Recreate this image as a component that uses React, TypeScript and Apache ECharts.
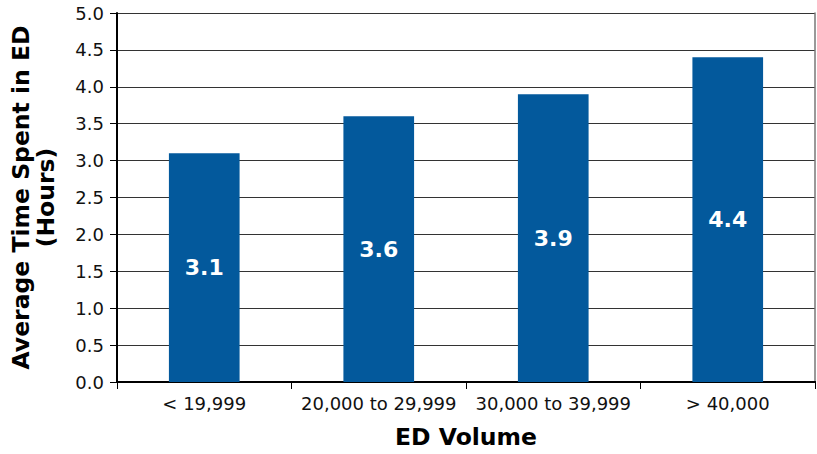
import React, { useEffect, useRef } from "react";
import * as echarts from "echarts";

const categories = ["< 19,999", "20,000 to 29,999", "30,000 to 39,999", "> 40,000"];
const hours = [3.1, 3.6, 3.9, 4.4];
const yTicks = { min: 0, max: 5, interval: 0.5 };

const FONT = "DejaVu Sans, Verdana, sans-serif";

export default function App() {
  const ref = useRef<HTMLDivElement>(null);

  useEffect(() => {
    if (!ref.current) return;
    document.body.style.margin = "0";
    const chart = echarts.init(ref.current, null, { renderer: "svg" });
    chart.setOption({
      animation: false,
      backgroundColor: "#ffffff",
      grid: { left: 115, right: 2, top: 13, bottom: 69, containLabel: false },
      xAxis: [
        {
          type: "category",
          data: categories,
          name: "ED Volume",
          nameLocation: "middle",
          nameGap: 43,
          nameTextStyle: { fontFamily: FONT, fontSize: 23.5, fontWeight: "bold", color: "#000" },
          axisLine: { show: true, lineStyle: { color: "#000", width: 2 } },
          axisTick: { show: true, length: 7, lineStyle: { color: "#000", width: 1 } },
          axisLabel: { interval: 0, fontFamily: FONT, fontSize: 18, color: "#111", margin: 12 },
        },
        {
          type: "category",
          data: categories,
          position: "top",
          axisLine: { show: true, lineStyle: { color: "#000", width: 2 } },
          axisTick: { show: false },
          axisLabel: { show: false },
        },
      ],
      yAxis: [
        {
          type: "value",
          min: yTicks.min,
          max: yTicks.max,
          interval: yTicks.interval,
          name: "Average Time Spent in ED\n(Hours)",
          nameLocation: "middle",
          nameRotate: 90,
          nameGap: 59,
          nameTextStyle: {
            fontFamily: FONT,
            fontSize: 23.5,
            fontWeight: "bold",
            color: "#000",
            lineHeight: 25,
          },
          axisLine: { show: true, lineStyle: { color: "#000", width: 2 } },
          axisTick: { show: true, length: 7, lineStyle: { color: "#000", width: 1 } },
          axisLabel: {
            fontFamily: FONT,
            fontSize: 18,
            color: "#111",
            margin: 13,
            formatter: (v: number) => v.toFixed(1),
          },
          splitLine: { show: true, lineStyle: { color: "#333", width: 1 } },
        },
        {
          type: "value",
          min: yTicks.min,
          max: yTicks.max,
          interval: yTicks.interval,
          position: "right",
          axisLine: { show: true, lineStyle: { color: "#777", width: 1.5 } },
          axisTick: { show: false },
          axisLabel: { show: false },
          splitLine: { show: false },
        },
      ],
      series: [
        {
          type: "bar",
          data: hours,
          barWidth: "40.5%",
          itemStyle: { color: "#03599c" },
          label: {
            show: true,
            position: "inside",
            formatter: (p: any) => p.value.toFixed(1),
            fontFamily: FONT,
            fontSize: 22,
            fontWeight: "bold",
            color: "#ffffff",
          },
        },
      ],
    });
    return () => chart.dispose();
  }, []);

  return (
    <div
      ref={ref}
      style={{ position: "absolute", left: 0, top: 0, width: 817, height: 454 }}
    />
  );
}
